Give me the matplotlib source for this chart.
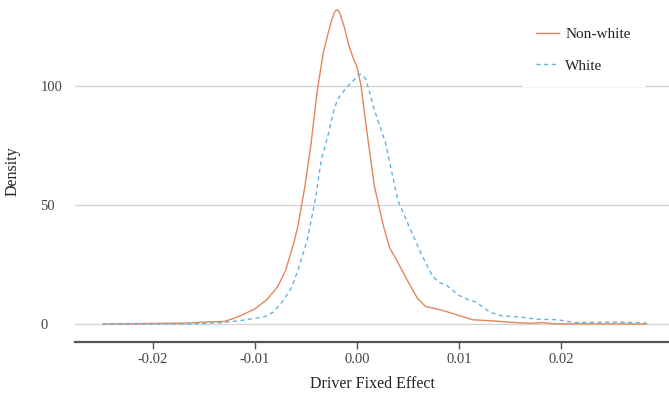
import matplotlib.pyplot as plt
import numpy as np

plt.rcParams['font.family'] = ['Liberation Serif', 'DejaVu Serif']

# Density curves
nonwhite_x = [-0.0249, -0.0166, -0.0150, -0.0130, -0.0122, -0.0112, -0.0100, -0.0089,
              -0.0078, -0.0070, -0.0062, -0.0058, -0.0051, -0.0045, -0.0039, -0.0033,
              -0.0029, -0.0025, -0.0022, -0.0020, -0.0018, -0.0016, -0.0012, -0.0008,
              -0.0004, 0.0000, 0.0004, 0.0009,
              0.0017, 0.0026, 0.0032, 0.0038, 0.0051, 0.0059, 0.0067, 0.0084,
              0.0100, 0.0113, 0.0134, 0.0151, 0.0170, 0.0182, 0.0193, 0.0284]
nonwhite_y = [0.0, 0.4, 0.8, 1.1, 2.2, 3.9, 6.4, 10.0,
              15.5, 22.5, 34.0, 41.0, 58.0, 76.0, 98.0, 114.0,
              121.0, 127.5, 131.0, 132.0, 131.5, 129.5, 124.0, 117.0,
              112.0, 108.0, 100.0, 83.0,
              58.0, 41.0, 32.0, 27.5, 17.0, 11.0, 7.4, 5.7,
              3.6, 1.8, 1.3, 0.7, 0.3, 0.6, 0.1, 0.0]

white_x = [-0.0249, -0.0162, -0.0133, -0.0116, -0.0103, -0.0091, -0.0082, -0.0072,
           -0.0064, -0.0058, -0.0049, -0.0041, -0.0035, -0.0028, -0.0022, -0.0018,
           -0.0010, -0.0003, 0.0001, 0.0003, 0.0006, 0.0009, 0.0017, 0.0028, 0.0040, 0.0051,
           0.0063, 0.0074, 0.0080, 0.0088, 0.0100, 0.0109, 0.0117, 0.0130,
           0.0142, 0.0159, 0.0176, 0.0197, 0.0213, 0.0247, 0.0263, 0.0284]
white_y = [0.0, 0.0, 0.6, 1.3, 2.2, 3.0, 5.0, 10.0,
           15.5, 22.5, 35.0, 52.0, 69.0, 80.0, 91.0, 95.0,
           99.5, 102.5, 104.5, 105.0, 104.5, 102.5, 90.0, 76.0, 52.0, 41.0,
           29.5, 20.0, 17.6, 16.2, 12.0, 10.2, 9.2, 5.0,
           3.4, 3.0, 2.0, 1.8, 0.6, 0.8, 0.7, 0.4]

x_ticks = [-0.02, -0.01, 0.00, 0.01, 0.02]
x_tick_labels = ['-0.02', '-0.01', '0.00', '0.01', '0.02']
y_ticks = [0, 50, 100]

fig = plt.figure(figsize=(6.69, 3.95), dpi=100)
ax = fig.add_axes([75 / 669, 53 / 395, 594 / 669, 342 / 395])

ax.plot(nonwhite_x, nonwhite_y, color='#E3875C', lw=1.0, label='Non-white')
ax.plot(white_x, white_y, color='#63B3E3', lw=1.0, ls=(0, (3, 2.5)), label='White')

ax.set_xlim(-0.02765, 0.03059)
ax.set_ylim(-7.56, 136.1)

ax.set_xticks(x_ticks)
ax.set_xticklabels(x_tick_labels)
ax.set_yticks(y_ticks)
ax.grid(axis='y', color='#d4d4d4', lw=1.0)
ax.set_axisbelow(True)

for s in ['top', 'right', 'left']:
    ax.spines[s].set_visible(False)
ax.spines['bottom'].set_color('#555555')
ax.spines['bottom'].set_linewidth(1.6)

ax.tick_params(axis='x', colors='#555555', length=5, width=1.0, labelsize=10.5,
               labelcolor='#444444', pad=3)
ax.tick_params(axis='y', length=0, labelsize=10.5, labelcolor='#444444', pad=25)
for lab in ax.get_yticklabels():
    lab.set_horizontalalignment('left')

ax.set_xlabel('Driver Fixed Effect', fontsize=11.5, color='#222222', labelpad=7)
ax.set_ylabel('Density', fontsize=11.5, color='#222222', labelpad=14)

leg = ax.legend(loc='upper left', bbox_to_anchor=(515 / 669, 1 - 6 / 395),
                bbox_transform=fig.transFigure, fontsize=11, frameon=True,
                facecolor='white', edgecolor='none', framealpha=1, fancybox=False,
                handlelength=1.5, handletextpad=0.4, labelspacing=1.18, borderpad=0.9)
for t in leg.get_texts():
    t.set_color('#222222')

fig.savefig('out.png', dpi=100)
